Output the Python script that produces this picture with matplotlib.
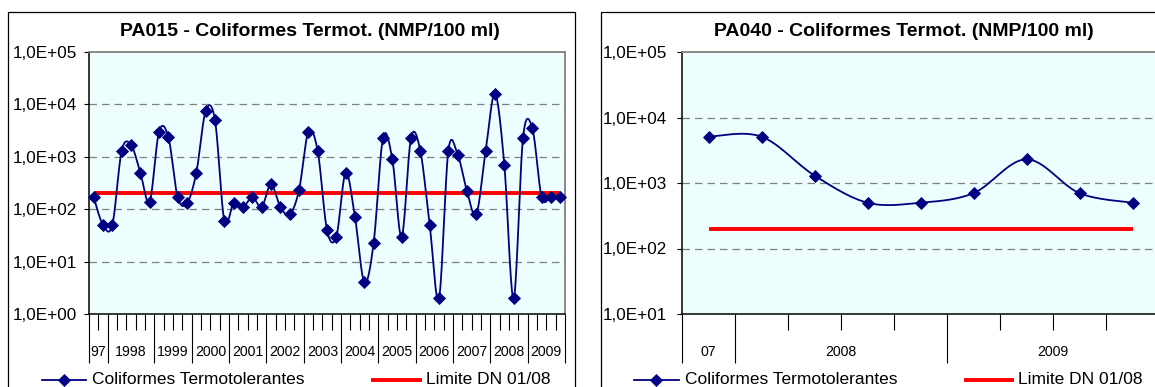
import numpy as np
import matplotlib
matplotlib.use("Agg")
import matplotlib.pyplot as plt
from matplotlib.lines import Line2D
from matplotlib.patches import Rectangle
from matplotlib.ticker import FixedLocator, NullLocator, NullFormatter, FuncFormatter
from matplotlib.transforms import blended_transform_factory

plt.rcParams['font.family'] = ['Liberation Sans', 'DejaVu Sans']

# ---- data ----
pa015_values = [170, 50, 50, 1300, 1700, 500, 140, 3000, 2400, 170, 130,
                500, 7500, 5000, 60, 130, 110, 170, 110, 300, 110, 80, 230,
                3000, 1300, 40, 30, 500, 70, 4, 23, 2300, 900, 30, 2300, 1300,
                50, 2, 1300, 1100, 220, 80, 1300, 16000, 700, 2, 2300, 3500,
                170, 170, 170]
pa015_years = ["97", "1998", "1999", "2000", "2001", "2002", "2003", "2004",
               "2005", "2006", "2007", "2008", "2009"]
pa015_year_counts = [2, 5, 4, 4, 4, 4, 4, 4, 4, 4, 4, 4, 4]

pa040_values = [5100, 5100, 1300, 500, 500, 700, 2300, 700, 500]
pa040_years = ["07", "2008", "2009"]
pa040_year_counts = [1, 4, 4]

limit_dn = 200

series_label = "Coliformes Termotolerantes"
limit_label = "Limite DN 01/08"
title_pa015 = "PA015 - Coliformes Termot. (NMP/100 ml)"
title_pa040 = "PA040 - Coliformes Termot. (NMP/100 ml)"

# ---- figure geometry (pixels) ----
W, H, DPI = 1155, 387, 100
fig = plt.figure(figsize=(W / DPI, H / DPI), dpi=DPI)
fig.patch.set_facecolor("white")

NAVY = "#000080"
RED = "#FF0000"
GRID = "#808080"
PLOT_BG = "#EEFDFD"
MS = 6.2


def fx(px):
    return px / W


def fy(py):
    return 1 - py / H


def smooth(x, y, per=16):
    """Bezier smoothing through points (Catmull-Rom style control points)."""
    x = np.asarray(x, float)
    y = np.asarray(y, float)
    n = len(x)
    xs, ys = [x[0]], [y[0]]
    t = np.linspace(0, 1, per + 1)[1:]
    for i in range(n - 1):
        p0 = np.array([x[max(i - 1, 0)], y[max(i - 1, 0)]])
        p1 = np.array([x[i], y[i]])
        p2 = np.array([x[i + 1], y[i + 1]])
        p3 = np.array([x[min(i + 2, n - 1)], y[min(i + 2, n - 1)]])
        c1 = p1 + (p2 - p0) / 6.0
        c2 = p2 - (p3 - p1) / 6.0
        for tt in t:
            b = ((1 - tt) ** 3) * p1 + 3 * ((1 - tt) ** 2) * tt * c1 \
                + 3 * (1 - tt) * tt ** 2 * c2 + tt ** 3 * p2
            xs.append(b[0])
            ys.append(b[1])
    return np.array(xs), np.array(ys)


def sci_fmt(v, _):
    e = int(round(np.log10(v)))
    return "1,0E{:+03d}".format(e)


def build_chart(left, right, top, bottom, values, years, counts, ylo, yhi,
                ylabel_pad):
    wpx, hpx = right - left, bottom - top
    ax = fig.add_axes([fx(left), fy(bottom), wpx / W, hpx / H])
    ax.set_facecolor(PLOT_BG)
    n = len(values)
    idx = np.arange(n)

    ax.set_yscale("log")
    ax.set_ylim(10.0 ** ylo, 10.0 ** yhi)
    ax.set_xlim(-0.5, n - 0.5)

    # y axis
    ax.yaxis.set_major_locator(FixedLocator(10.0 ** np.arange(ylo, yhi + 1)))
    ax.yaxis.set_minor_locator(NullLocator())
    ax.yaxis.set_major_formatter(FuncFormatter(sci_fmt))
    ax.tick_params(axis="y", which="major", direction="out", length=3.8,
                   width=0.8, labelsize=12.3, pad=ylabel_pad, colors="black")
    for e in range(ylo + 1, yhi):
        ax.axhline(10.0 ** e, color=GRID, lw=0.9, ls=(0, (6, 4)), zorder=1)

    # x axis: short ticks between samples, tall ticks at year boundaries
    bounds = np.concatenate([[0], np.cumsum(counts)]) - 0.5
    all_b = np.arange(n + 1) - 0.5
    minor_b = [b for b in all_b if not np.any(np.isclose(b, bounds))]
    ax.xaxis.set_major_locator(FixedLocator(bounds))
    ax.xaxis.set_minor_locator(FixedLocator(minor_b))
    ax.xaxis.set_major_formatter(NullFormatter())
    ax.xaxis.set_minor_formatter(NullFormatter())
    ax.tick_params(axis="x", which="major", direction="out", length=35,
                   width=0.8, colors="black")
    ax.tick_params(axis="x", which="minor", direction="out", length=11.8,
                   width=0.8, colors="black")
    tr = blended_transform_factory(ax.transData, fig.transFigure)
    for k, lab in enumerate(years):
        c = (bounds[k] + bounds[k + 1]) / 2
        ax.text(c, fy(352), lab, transform=tr, ha="center", va="center",
                fontsize=10.2, clip_on=False)

    for s in ("left", "bottom"):
        ax.spines[s].set_color("black")
        ax.spines[s].set_linewidth(1.1)
    for s in ("top", "right"):
        ax.spines[s].set_color(GRID)
        ax.spines[s].set_linewidth(1.3)

    # limit line
    ax.plot([0, n - 1], [limit_dn, limit_dn], color=RED, lw=2.8,
            solid_capstyle="butt", zorder=3)

    # smoothed series
    sx, sy = smooth(idx, np.log10(values))
    ax.plot(sx, 10.0 ** sy, color=NAVY, lw=1.3, zorder=4)
    ax.plot(idx, values, ls="none", marker="D", ms=MS, color=NAVY,
            mec=NAVY, mew=0.6, zorder=5, clip_on=False)
    return ax


# left chart
fig.add_artist(Rectangle((fx(8), -0.05), (575 - 8) / W, fy(12) + 0.05,
                         transform=fig.transFigure, fill=False,
                         edgecolor="black", lw=0.9))
build_chart(89, 565, 52, 314, pa015_values, pa015_years, pa015_year_counts,
            0, 5, 5.2)
fig.text(fx(310), fy(36), title_pa015, ha="center", va="baseline",
         fontsize=14, fontweight="bold")

# right chart
fig.add_artist(Rectangle((fx(601), -0.05), 0.5, fy(12) + 0.05,
                         transform=fig.transFigure, fill=False,
                         edgecolor="black", lw=0.9))
build_chart(682, 1159, 52, 314, pa040_values, pa040_years, pa040_year_counts,
            1, 5, 6.8)
fig.text(fx(904), fy(36), title_pa040, ha="center", va="baseline",
         fontsize=14, fontweight="bold")


# legends
def legend_entry(x0, x1, label, color, lw, marker=None):
    yv = fy(380)
    fig.add_artist(Line2D([fx(x0), fx(x1)], [yv, yv], color=color, lw=lw,
                          transform=fig.transFigure))
    if marker:
        fig.add_artist(Line2D([fx((x0 + x1) / 2)], [yv], marker=marker,
                              ms=MS, color=color, mew=0.6,
                              transform=fig.transFigure))
    fig.text(fx(x1 + 6), yv, label, ha="left", va="center", fontsize=12.5)


legend_entry(42, 86, series_label, NAVY, 1.3, "D")
legend_entry(373, 420, limit_label, RED, 2.8)
legend_entry(634, 679, series_label, NAVY, 1.3, "D")
legend_entry(966, 1012, limit_label, RED, 2.8)

fig.savefig("out.png", dpi=DPI)
